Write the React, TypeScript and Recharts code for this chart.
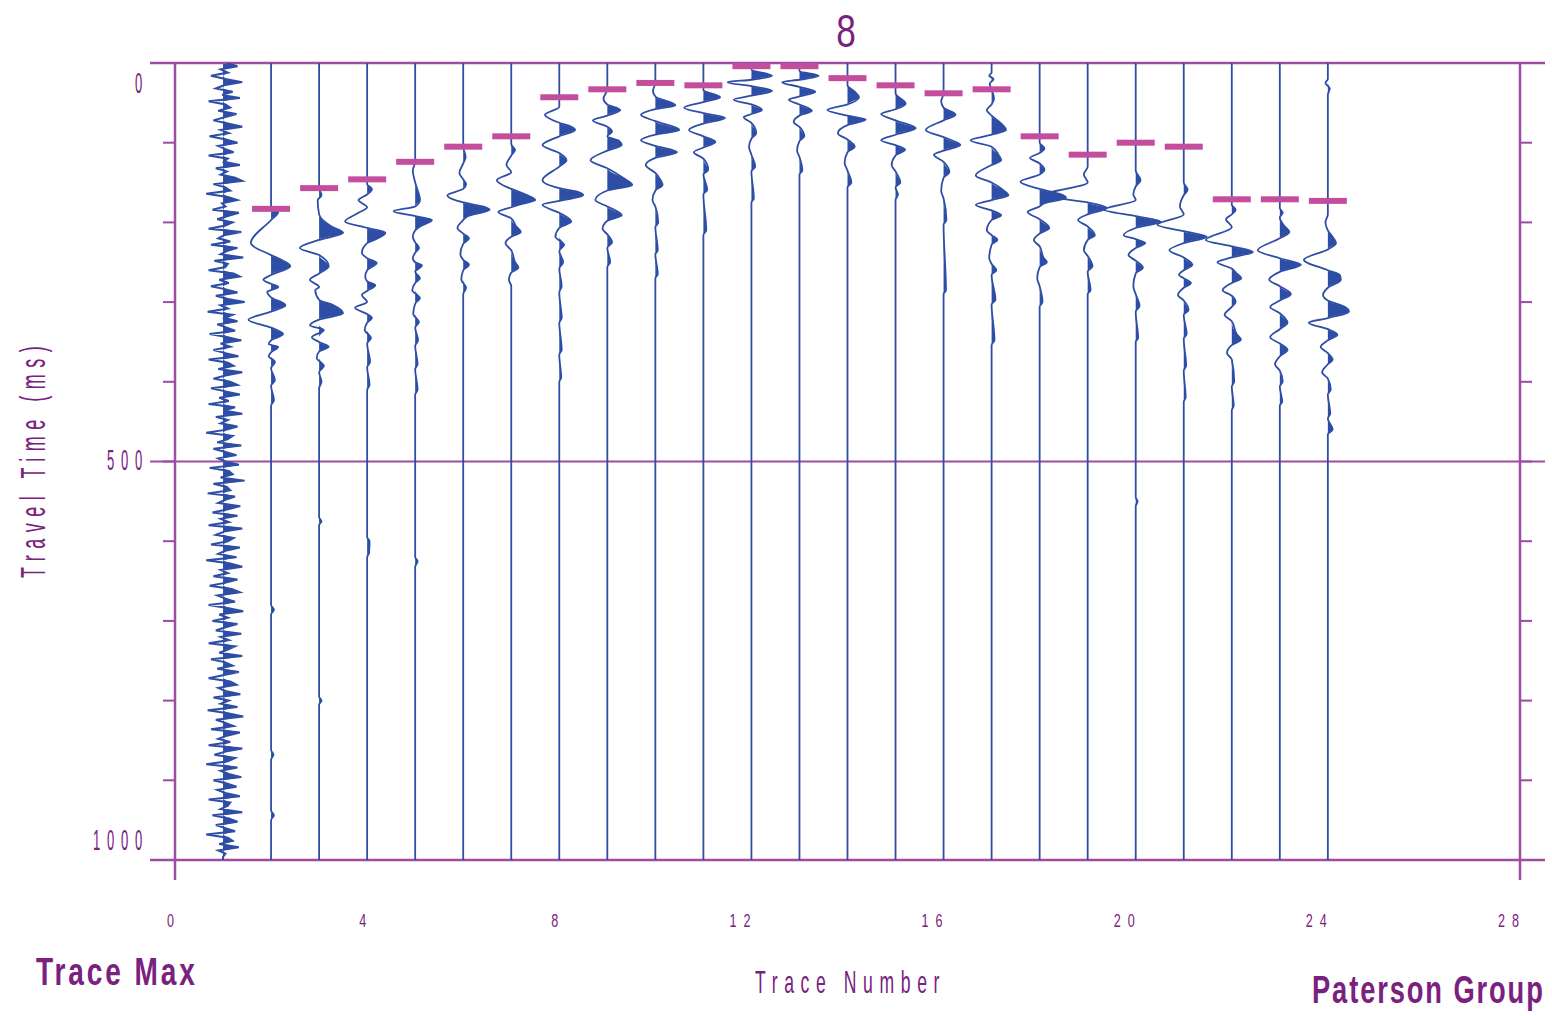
import React from 'react';
import { ComposedChart, Line, Area, Scatter, XAxis, YAxis, ReferenceLine } from 'recharts';

const W = 1552;
const H = 1016;
const TEXT = '#7A2180';
const AXIS = '#9E4BA3';
const PICK = '#C44E9E';
const WIG = '#2E4EA6';
const FONT = '"Liberation Sans", Arial, sans-serif';

const X_TICKS = [0, 4, 8, 12, 16, 20, 24, 28];
const Y_TICKS = [0, 100, 200, 300, 400, 500, 600, 700, 800, 900, 1000];
const Y_LABELS = [0, 500, 1000];

// Trace 1: noisy trace sampled every 4 ms (amplitude in trace units)
const TRACE1_DT = 4;
const TRACE1_AMPS = [
  0.08, 0.3, -0.05, 0.1, -0.25, 0.05, 0.4, 0.02, -0.15, 0.2, -0.02, 0.35, -0.3, 0.05, 0.15, -0.1, 0.28, 0.03, -0.2, 0.1, 0.4, -0.05, 0.12, -0.28, 0.06,
  0.3, -0.1, 0.05, 0.22, -0.3, 0.1, 0.02, 0.35, -0.15, 0.08, -0.05, 0.25, 0.4, -0.2, 0.05, 0.15, -0.35, 0.1, 0.3, -0.02, 0.05, -0.22, 0.33, 0.1, -0.12,
  0.2, 0.05, -0.3, 0.38, 0.02, -0.1, 0.15, -0.25, 0.3, 0.08, -0.05, 0.42, -0.18, 0.1, 0.05, -0.3, 0.22, 0.35, -0.08, 0.12, -0.25, 0.06, 0.3, -0.15, 0.1,
  0.45, -0.05, 0.1, -0.32, 0.2, 0.04, 0.3, -0.12, 0.08, 0.25, -0.28, 0.1, 0.38, -0.05, 0.15, -0.2, 0.05, 0.32, -0.3, 0.1, 0.22, -0.1, 0.4, 0.05, -0.2,
  0.15, 0.3, -0.25, 0.05, 0.35, -0.08, 0.12, -0.3, 0.25, 0.02, 0.4, -0.15, 0.1, -0.05, 0.3, 0.08, -0.35, 0.2, 0.1, -0.12, 0.38, -0.2, 0.05, 0.28, -0.1,
  0.05, 0.33, -0.28, 0.12, 0.2, -0.05, 0.45, -0.2, 0.08, 0.15, -0.32, 0.25, 0.05, -0.1, 0.36, 0.1, -0.22, 0.3, -0.05, 0.12, -0.3, 0.4, 0.02, -0.15, 0.22,
  0.1, -0.25, 0.35, 0.05, -0.1, 0.28, -0.35, 0.15, 0.4, -0.05, 0.1, -0.2, 0.3, 0.06, -0.28, 0.18, 0.35, -0.12, 0.05, 0.25, -0.3, 0.12, 0.42, -0.08, 0.1,
  -0.22, 0.3, 0.05, -0.15, 0.38, -0.05, 0.12, -0.3, 0.25, 0.1, -0.08, 0.4, -0.25, 0.05, 0.2, -0.12, 0.33, 0.02, -0.3, 0.15, 0.28, -0.1, 0.05, 0.36, -0.2,
  0.12, -0.05, 0.3, -0.32, 0.1, 0.42, -0.15, 0.05, 0.22, -0.25, 0.35, 0.08, -0.1, 0.15, -0.3, 0.4, 0.05, -0.18, 0.25, 0.1, -0.35, 0.3, -0.05, 0.12, 0.38,
  -0.2, 0.08, 0.28, -0.12, 0.05, 0.35, -0.3, 0.15, 0.1, -0.05, 0.4, -0.22, 0.12, 0.3, -0.15, 0.05, 0.25, -0.35, 0.1, 0.2, -0.08, 0.33, -0.1, 0.05, 0,
];

// Traces 2..24: [time ms, amplitude in trace units]
const TRACE_02 = [[0,0],[183,0],[187,0.15],[197,0],[226,-0.42],[241,0],[248,0.25],[255,0.4],[266,0],[272,-0.16],[277,0],[281,0.15],[285,0],[287,-0.08],[294,0],[304,0.3],[312,0],[322,-0.47],[332,0],[340,0.25],[348,0],[353,-0.05],[356,0.15],[363,0],[368,-0.05],[375,0.08],[383,0],[398,0.08],[405,0],[423,0.06],[430,0],[680,0],[686,0.06],[692,0],[862,0],[868,0.05],[874,0],[938,0],[944,0.06],[950,0],[1000,0]];
const TRACE_03 = [[0,0],[157,0],[166,0.05],[172,-0.03],[190,0],[205,0.25],[213,0.5],[222,0],[232,-0.4],[241,0],[255,0.2],[264,0],[272,-0.19],[281,0],[285,-0.08],[297,0],[304,0.3],[314,0.5],[322,0],[329,-0.19],[335,0.1],[344,-0.15],[350,0],[356,0.2],[362,0],[370,-0.05],[380,0.1],[388,0],[400,0.05],[408,0],[570,0],[575,0.05],[580,0],[795,0],[800,0.05],[805,0],[1000,0]];
const TRACE_04 = [[0,0],[146,0],[152,0],[158,0.1],[165,0],[172,-0.18],[181,0],[188,-0.18],[199,-0.46],[207,0],[213,0.38],[222,0.15],[226,0],[238,-0.11],[245,0],[251,0.2],[260,0],[268,-0.04],[274,0],[279,0.17],[286,0],[291,-0.11],[300,0],[307,-0.25],[315,0],[320,0.1],[326,0],[335,-0.05],[345,0.08],[352,0],[375,0.06],[382,0],[404,0.05],[410,0],[595,0],[600,0.05],[615,0.04],[620,0],[1000,0]];
const TRACE_05 = [[0,0],[124,0],[135,-0.05],[150,0],[172,0.1],[180,0],[186,-0.45],[192,0],[197,0.35],[205,0.1],[210,0],[218,-0.05],[225,0],[232,0.08],[238,0],[245,-0.05],[250,0],[254,0.14],[262,0],[270,0.1],[276,0],[285,-0.06],[295,0.1],[302,0],[315,-0.04],[325,0.08],[332,0],[348,0.06],[355,0],[378,0.05],[384,0],[410,0.05],[416,0],[620,0],[625,0.05],[632,0],[1000,0]];
const TRACE_06 = [[0,0],[105,0],[118,0.05],[126,0],[138,-0.08],[146,0],[152,0.06],[158,0],[166,-0.33],[175,0],[180,0.4],[184,0.55],[192,0.1],[197,0],[207,-0.12],[214,0],[220,0.12],[227,0],[240,-0.06],[247,0],[253,0.12],[260,0],[272,-0.04],[282,0.06],[290,0],[1000,0]];
const TRACE_07 = [[0,0],[92,0],[102,0],[109,0.08],[116,0],[128,-0.1],[137,0],[147,-0.3],[158,0],[165,0.3],[172,0.5],[178,0.15],[181,0],[187,-0.27],[195,0],[205,0.1],[212,0.2],[218,0],[226,-0.12],[235,0],[250,0.08],[257,0.15],[263,0],[272,-0.05],[280,0],[1000,0]];
const TRACE_08 = [[0,0],[43,0],[55,0],[65,-0.3],[75,0],[80,0.25],[84,0.33],[92,0],[103,-0.35],[113,0],[122,0.15],[130,0],[147,-0.35],[157,0],[162,0.4],[166,0.5],[173,0],[178,-0.35],[188,0],[199,0.25],[207,0],[218,-0.08],[228,0.1],[236,0],[250,0.08],[258,0],[280,0.05],[288,0],[320,0.05],[326,0],[360,0.05],[366,0],[395,0.04],[400,0],[1000,0]];
const TRACE_09 = [[0,0],[33,0],[45,-0.08],[52,0],[59,0.27],[66,0],[72,-0.3],[80,0],[86,0.1],[92,0],[98,0.25],[103,0.3],[110,0],[122,-0.35],[132,0],[145,0.35],[153,0.52],[160,0],[172,-0.25],[180,0],[191,0.3],[198,0],[208,-0.1],[215,0],[225,0.1],[232,0],[250,0.06],[256,0],[1000,0]];
const TRACE_10 = [[0,0],[25,0],[35,-0.05],[42,0],[53,0.42],[58,0],[65,-0.3],[73,0],[84,0.5],[90,0],[97,-0.3],[104,0],[112,0.45],[119,0],[128,-0.2],[138,0],[146,0.1],[153,0.15],[160,0],[172,-0.06],[180,0],[200,0.06],[206,0],[235,0.05],[240,0],[265,0.05],[270,0],[1000,0]];
const TRACE_11 = [[0,0],[28,0],[34,0],[43,0.35],[49,0],[56,-0.4],[63,0],[69,0.45],[76,0],[84,-0.3],[92,0],[99,0.25],[106,0],[112,-0.2],[120,0],[134,0.1],[140,0],[159,0.08],[165,0],[210,0.06],[216,0],[1000,0]];
const TRACE_12 = [[0,0],[4,0],[8,0],[16,0.43],[21,0],[24,-0.5],[29,0],[35,0.43],[41,0],[46,-0.37],[52,0],[59,0.22],[64,0],[68,-0.16],[75,0],[88,0.1],[95,0],[105,-0.05],[115,0],[130,0.08],[136,0],[170,0.05],[175,0],[1000,0]];
const TRACE_13 = [[0,0],[4,0],[10,0],[16,0.4],[21,0],[24,-0.36],[30,0],[36,0.33],[42,0],[46,-0.22],[52,0],[60,0.26],[66,0],[74,-0.12],[80,0],[92,0.1],[98,0],[110,-0.05],[118,0],[135,0.06],[140,0],[1000,0]];
const TRACE_14 = [[0,0],[19,0],[28,0],[36,0.15],[43,0.24],[52,0],[59,-0.42],[66,0],[71,0.38],[78,0],[88,-0.2],[96,0],[105,0.15],[112,0],[125,-0.06],[135,0],[150,0.08],[156,0],[1000,0]];
const TRACE_15 = [[0,0],[28,0],[38,0],[51,0.21],[58,0],[64,-0.3],[72,0],[82,0.42],[90,0],[97,-0.3],[103,0],[109,0.2],[116,0],[128,-0.08],[136,0],[150,0.1],[156,0],[165,0.05],[172,0],[1000,0]];
const TRACE_16 = [[0,0],[38,0],[48,-0.05],[56,0],[65,0.25],[72,0],[84,-0.37],[93,0],[103,0.35],[110,0],[115,-0.2],[124,0],[137,0.12],[144,0],[160,-0.05],[170,0],[197,0.06],[203,0],[285,0.05],[290,0],[1000,0]];
const TRACE_17 = [[0,0],[12,0],[16,-0.05],[20,0.04],[26,-0.04],[33,0],[45,0.05],[52,0],[59,-0.1],[66,0],[76,0.2],[84,0.3],[90,0],[97,-0.44],[105,0],[116,0.15],[122,0.2],[128,0],[141,-0.33],[150,0],[160,0.25],[166,0.35],[172,0],[178,-0.33],[185,0],[191,0.2],[197,0],[210,-0.1],[216,0],[222,0.12],[228,0],[245,-0.05],[252,0],[260,0.1],[266,0],[297,0.08],[303,0],[348,0.06],[354,0],[1000,0]];
const TRACE_18 = [[0,0],[92,0],[100,0],[107,0.1],[113,0],[119,-0.2],[126,0],[134,0.1],[140,0],[149,-0.4],[158,0],[164,0.4],[169,0.55],[176,0.1],[180,0],[187,-0.25],[196,0],[207,0.2],[214,0],[222,-0.12],[230,0],[244,0.08],[250,0.15],[256,0],[270,-0.05],[280,0],[300,0.06],[306,0],[1000,0]];
const TRACE_19 = [[0,0],[115,0],[130,0],[140,-0.08],[150,0],[166,-0.9],[175,0],[182,0.4],[190,0],[197,-0.2],[205,0],[216,0.15],[222,0],[235,-0.08],[242,0],[255,0.1],[262,0],[285,0.06],[290,0],[1000,0]];
const TRACE_20 = [[0,0],[100,0],[135,0],[147,0.1],[155,0],[165,-0.05],[172,0],[184,-0.65],[192,0],[199,0.52],[207,0],[216,-0.25],[221,0],[226,0.2],[232,0],[241,-0.15],[248,0],[257,0.15],[264,0],[280,-0.05],[290,0],[305,0.08],[312,0],[345,0.05],[350,0],[545,0],[550,0.04],[556,0],[1000,0]];
const TRACE_21 = [[0,0],[105,0],[150,0],[159,0.08],[166,0],[180,-0.08],[190,0],[203,-0.55],[211,0],[218,0.48],[226,0],[235,-0.3],[244,0],[253,0.18],[260,0],[266,-0.1],[270,0],[276,0.15],[282,0],[291,-0.12],[298,0],[310,0.1],[316,0],[340,0.06],[346,0],[380,0.05],[386,0],[420,0.04],[425,0],[1000,0]];
const TRACE_22 = [[0,0],[171,0],[178,0],[184,0.08],[190,0],[196,-0.12],[206,0],[222,-0.54],[230,0],[237,0.44],[244,0],[250,-0.3],[258,0],[264,0.1],[270,0.2],[276,0],[285,-0.19],[292,0],[300,0.08],[306,0],[316,-0.15],[324,0],[340,0.1],[347,0.19],[354,0],[364,-0.1],[372,0],[400,0.05],[406,0],[430,0.04],[436,0],[1000,0]];
const TRACE_23 = [[0,0],[171,0],[182,0],[188,0.06],[194,0],[205,0.1],[212,0.2],[220,0],[235,-0.46],[245,0],[253,0.44],[262,0],[272,-0.22],[280,0],[290,0.23],[298,0],[306,-0.2],[314,0],[326,0.16],[334,0],[344,-0.2],[352,0],[360,0.16],[368,0],[378,-0.1],[386,0],[400,0.06],[406,0],[425,0.05],[430,0],[1000,0]];
const TRACE_24 = [[0,0],[20,0],[25,-0.05],[32,0.04],[40,0],[173,0],[190,0],[200,-0.05],[210,0],[220,0.12],[226,0.17],[234,0],[247,-0.5],[260,0],[266,0.25],[272,0.27],[282,0],[291,-0.1],[298,0],[306,0.35],[312,0.44],[320,0],[326,-0.4],[334,0],[341,0.2],[348,0],[356,-0.15],[364,0],[372,0.1],[378,0],[388,-0.12],[396,0],[410,0.06],[416,0],[440,0.05],[446,0],[460,0.1],[466,0],[1000,0]];

const PICK_TRACES = [2, 3, 4, 5, 6, 7, 8, 9, 10, 11, 12, 13, 14, 15, 16, 17, 18, 19, 20, 21, 22, 23, 24];
const PICK_TIMES = [183, 157, 146, 124, 105, 92, 43, 33, 25, 28, 4, 4, 19, 28, 38, 33, 92, 115, 100, 105, 171, 171, 173];

const TRACE1_POINTS = TRACE1_AMPS.map((a, i) => [i * TRACE1_DT, a]).concat([[1000, 0]]);
const TRACE_POINTS = [
  TRACE1_POINTS, TRACE_02, TRACE_03, TRACE_04, TRACE_05, TRACE_06, TRACE_07, TRACE_08, TRACE_09, TRACE_10,
  TRACE_11, TRACE_12, TRACE_13, TRACE_14, TRACE_15, TRACE_16, TRACE_17, TRACE_18, TRACE_19, TRACE_20,
  TRACE_21, TRACE_22, TRACE_23, TRACE_24,
];

const SERIES = TRACE_POINTS.map((pts, i) => {
  const c = i + 1;
  return pts.map(([t, a]) => ({ t, v: c + a, f: [c, c + Math.max(0, a)] }));
});

const PICKS = PICK_TRACES.map((x, i) => ({ x, t: PICK_TIMES[i] }));

const YTick = (props: any) => {
  const { x, y, payload } = props;
  const v = payload.value;
  if (!Y_LABELS.includes(v)) return <g />;
  const s = String(v);
  const right = x - 18;
  const start = right - 6 - (s.length - 1) * 14;
  const dy = v === 0 ? 29.5 : v === 1000 ? -10 : 8;
  return (
    <text transform={`translate(${start - 2},${y + dy}) scale(0.45,1)`} fontSize={29} letterSpacing={15} fill={TEXT} fontFamily={FONT}>
      {s}
    </text>
  );
};

const XTick = (props: any) => {
  const { x, y, payload } = props;
  const s = String(payload.value);
  const start = x - 2 - 6 - (s.length - 1) * 14;
  return (
    <text transform={`translate(${start},${y + 59}) scale(0.7,1)`} fontSize={18} letterSpacing={10} fill={TEXT} fontFamily={FONT}>
      {s}
    </text>
  );
};

const EmptyTick = () => <g />;

const PickShape = (props: any) => {
  const { cx, cy } = props;
  return <rect x={cx - 19} y={cy - 3} width={38} height={6} fill={PICK} />;
};

export default function App() {
  return (
    <div style={{ position: 'absolute', left: 0, top: 0, width: W, height: H, background: '#fff' }}>
      <ComposedChart
        width={W}
        height={H}
        layout="vertical"
        margin={{ top: 63, right: 12, bottom: 126, left: 115 }}
      >
        <XAxis
          type="number"
          dataKey="x"
          domain={[0, 28]}
          ticks={X_TICKS}
          allowDataOverflow
          axisLine={false}
          tickLine={false}
          tick={<XTick />}
          height={30}
          interval={0}
        />
        <YAxis
          type="number"
          dataKey="t"
          domain={[0, 1000]}
          ticks={Y_TICKS}
          allowDataOverflow
          axisLine={false}
          tickLine={{ stroke: AXIS, strokeWidth: 2 }}
          tickSize={12}
          tick={<YTick />}
          width={60}
          interval={0}
        />
        <YAxis
          yAxisId="r"
          orientation="right"
          type="number"
          dataKey="t"
          domain={[0, 1000]}
          ticks={Y_TICKS}
          allowDataOverflow
          axisLine={false}
          tickLine={{ stroke: AXIS, strokeWidth: 2 }}
          tickSize={12}
          tick={<EmptyTick />}
          width={20}
          interval={0}
        />
        <ReferenceLine segment={[{ x: -0.52, y: 0 }, { x: 28.52, y: 0 }]} stroke={AXIS} strokeWidth={2.5} ifOverflow="visible" />
        <ReferenceLine segment={[{ x: -0.52, y: 500 }, { x: 28.52, y: 500 }]} stroke={AXIS} strokeWidth={2} ifOverflow="visible" />
        <ReferenceLine segment={[{ x: -0.52, y: 1000 }, { x: 28.52, y: 1000 }]} stroke={AXIS} strokeWidth={2.5} ifOverflow="visible" />
        <ReferenceLine segment={[{ x: 0, y: 0 }, { x: 0, y: 1025 }]} stroke={AXIS} strokeWidth={2.5} ifOverflow="visible" />
        <ReferenceLine segment={[{ x: 28, y: 0 }, { x: 28, y: 1025 }]} stroke={AXIS} strokeWidth={2.5} ifOverflow="visible" />
        <Scatter data={PICKS} shape={<PickShape />} isAnimationActive={false} />
        {SERIES.map((d, i) => (
          <Area
            key={'a' + i}
            data={d}
            dataKey="f"
            type={i === 0 ? 'linear' : 'monotoneY'}
            stroke="none"
            fill={WIG}
            fillOpacity={1}
            dot={false}
            activeDot={false}
            isAnimationActive={false}
          />
        ))}
        {SERIES.map((d, i) => (
          <Line
            key={'l' + i}
            data={d}
            dataKey="v"
            type={i === 0 ? 'linear' : 'monotoneY'}
            stroke={WIG}
            strokeWidth={i === 0 ? 2 : 1.8}
            dot={false}
            activeDot={false}
            isAnimationActive={false}
          />
        ))}
      </ComposedChart>
      <svg width={W} height={H} style={{ position: 'absolute', left: 0, top: 0, pointerEvents: 'none' }}>
        <text transform="translate(846,47) scale(0.75,1)" textAnchor="middle" fontSize={47} fill={TEXT} fontFamily={FONT}>8</text>
        <text transform="translate(36,985) scale(0.72,1)" fontSize={39} fontWeight="bold" letterSpacing={4} fill={TEXT} fontFamily={FONT}>Trace Max</text>
        <text transform="translate(755,993) scale(0.55,1)" fontSize={32} letterSpacing={12} fill={TEXT} fontFamily={FONT}>Trace Number</text>
        <text transform="translate(1312,1003) scale(0.7,1)" fontSize={39} fontWeight="bold" letterSpacing={2.7} fill={TEXT} fontFamily={FONT}>Paterson Group</text>
        <text transform="translate(45,578) rotate(-90) scale(0.5,1)" fontSize={36} letterSpacing={13} fill={TEXT} fontFamily={FONT}>Travel Time (ms)</text>
      </svg>
    </div>
  );
}
